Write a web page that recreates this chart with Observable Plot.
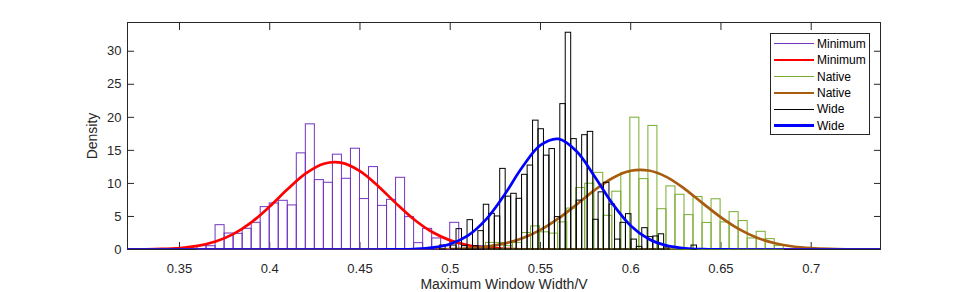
<!DOCTYPE html>
<html>
<head>
<meta charset="utf-8">
<script src="https://cdn.jsdelivr.net/npm/d3@7"></script>
<script src="https://cdn.jsdelivr.net/npm/@observablehq/plot@0.6"></script>
<style>
  body { margin: 0; background: #fff; }
  #wrap { position: relative; width: 974px; height: 292px; font-family: "Liberation Sans", Arial, Helvetica, sans-serif; }
  #legend { position: absolute; left: 770px; top: 33px; width: 100px; height: 102px; box-sizing: border-box; border: 1px solid #262626; background: #fff; }
  .row { position: absolute; left: 0; width: 98px; height: 16px; }
  .sw { position: absolute; left: 3px; width: 40px; }
  .lab { position: absolute; left: 46px; top: 0; line-height: 16px; font-size: 12px; color: #000; white-space: nowrap; }
</style>
</head>
<body>
<div id="wrap"><div id="chart"></div><div id="legend"></div></div>
<script>
// ---- data ----
const xTicks = [0.35, 0.4, 0.45, 0.5, 0.55, 0.6, 0.65, 0.7];
const yTicks = [0, 5, 10, 15, 20, 25, 30];

// Minimum histogram (bin left edges, density)
const minBinWidth = 0.005;
const minEdges = [0.360, 0.365, 0.370, 0.375, 0.380, 0.385, 0.390, 0.395, 0.400, 0.405, 0.410, 0.415, 0.420, 0.425, 0.430, 0.435, 0.440, 0.445, 0.450, 0.455, 0.460, 0.465, 0.470, 0.475, 0.480, 0.485, 0.490, 0.495, 0.500, 0.515];
const minDensity = [0.5, 0.5, 3.68, 2.42, 2.37, 3.13, 4.04, 6.41, 6.97, 7.37, 6.67, 14.55, 18.94, 10.5, 10.1, 14.35, 10.7, 15.25, 7.63, 12.47, 6.6, 7.52, 10.85, 4.9, 0.96, 3.13, 1.67, 0.5, 4.04, 0.5];

// Native histogram
const natBinWidth = 0.005;
const natEdges = [0.5198, 0.5248, 0.5298, 0.5348, 0.5398, 0.5448, 0.5498, 0.5548, 0.5598, 0.5648, 0.5698, 0.5748, 0.5798, 0.5848, 0.5898, 0.5948, 0.5998, 0.6048, 0.6098, 0.6148, 0.6198, 0.6248, 0.6298, 0.6348, 0.6398, 0.6448, 0.6498, 0.6548, 0.6598, 0.6648, 0.6698, 0.6748, 0.6798];
const natDensity = [1.0, 1.0, 0.5, 1.0, 2.5, 3.5, 2.6, 2.4, 4.1, 6.2, 9.3, 9.95, 11.6, 5.1, 8.75, 11.6, 19.95, 10.65, 18.7, 6.1, 9.55, 8.28, 5.2, 7.95, 4.02, 7.6, 4.1, 5.65, 4.3, 1.67, 2.68, 1.57, 0.55];

// Wide histogram
const wideBinWidth = 0.003027;
const wideEdges = [0.4944, 0.4974, 0.5005, 0.5035, 0.5065, 0.5096, 0.5126, 0.5156, 0.5186, 0.5217, 0.5247, 0.5277, 0.5307, 0.5338, 0.5368, 0.5398, 0.5429, 0.5459, 0.5489, 0.5519, 0.5550, 0.5580, 0.5610, 0.5640, 0.5671, 0.5701, 0.5731, 0.5762, 0.5792, 0.5822, 0.5852, 0.5883, 0.5913, 0.5943, 0.5974, 0.6004, 0.6034, 0.6064, 0.6095, 0.6125, 0.6155, 0.6185, 0.6216, 0.6246, 0.6276, 0.6307, 0.6337];
const wideDensity = [0.6, 0, 0.6, 3.08, 0.5, 4.44, 0.5, 2.78, 6.77, 5.4, 5.0, 12.2, 8.0, 8.43, 7.67, 11.3, 12.7, 19.5, 18.2, 14.2, 15.2, 4.9, 22.0, 32.8, 16.7, 7.4, 17.3, 17.8, 4.5, 8.65, 10.1, 6.8, 1.5, 4.04, 5.35, 1.5, 0.4, 3.23, 1.87, 1.97, 2.3, 0.3, 0, 0, 0, 0, 0.6];

// Fitted density curves, read at these x positions
const fitX = [0.32, 0.33, 0.34, 0.35, 0.36, 0.37, 0.38, 0.39, 0.40, 0.41, 0.42, 0.43, 0.44, 0.45, 0.46, 0.47, 0.48, 0.49, 0.50, 0.51, 0.52, 0.53, 0.54, 0.55, 0.56, 0.57, 0.58, 0.59, 0.60, 0.61, 0.62, 0.63, 0.64, 0.65, 0.66, 0.67, 0.68, 0.69, 0.70, 0.71, 0.72, 0.73, 0.74];
const minFit = [0.008, 0.028, 0.084, 0.229, 0.557, 1.213, 2.372, 4.151, 6.511, 9.147, 11.51, 12.98, 13.11, 11.86, 9.613, 6.979, 4.539, 2.645, 1.381, 0.646, 0.271, 0.101, 0.034, 0.010, 0.003, 0.001, 0, 0, 0, 0, 0, 0, 0, 0, 0, 0, 0, 0, 0, 0, 0, 0, 0];
const natFit = [0, 0, 0, 0, 0, 0, 0, 0, 0, 0, 0, 0, 0, 0.0002, 0.0008, 0.0027, 0.009, 0.027, 0.075, 0.187, 0.429, 0.895, 1.703, 2.962, 4.699, 6.802, 8.984, 10.83, 11.91, 11.95, 10.95, 9.150, 6.978, 4.856, 3.084, 1.787, 0.945, 0.456, 0.201, 0.081, 0.030, 0.010, 0.003];
const wideFit = [0, 0, 0, 0, 0, 0, 0, 0, 0, 0, 0, 0, 0, 0.0005, 0.003, 0.017, 0.075, 0.272, 0.833, 2.135, 4.588, 8.261, 12.48, 15.78, 16.73, 14.86, 11.06, 6.903, 3.609, 1.581, 0.581, 0.179, 0.046, 0.010, 0.002, 0.0003, 0, 0, 0, 0, 0, 0, 0];

const seriesNames = ["Minimum", "Minimum", "Native", "Native", "Wide", "Wide"];
const colors = { min: "#7334BF", minFit: "#FF0000", nat: "#77AC30", natFit: "#A85C0F", wide: "#000000", wideFit: "#0000FF" };

// ---- build tables ----
const bins = (edges, dens, w) => edges.map((x1, i) => ({ x1, x2: x1 + w, v: dens[i] }));
const minRows = bins(minEdges, minDensity, minBinWidth);
const natRows = bins(natEdges, natDensity, natBinWidth);
const wideRows = bins(wideEdges, wideDensity, wideBinWidth);
const fitRows = fitX.map((x, i) => ({ x, min: minFit[i], nat: natFit[i], wide: wideFit[i] }));

const xFmt = d => String(+d.toFixed(2));
const axisColor = "#262626";
const fitW = 2.7;

const chart = Plot.plot({
  width: 974,
  height: 292,
  marginLeft: 127,
  marginRight: 94,
  marginTop: 22,
  marginBottom: 43,
  x: { domain: [0.3212, 0.7384] },
  y: { domain: [0, 34.35] },
  style: { fontFamily: '"Liberation Sans", Arial, Helvetica, sans-serif', fontSize: "13px", color: axisColor, background: "#fff" },
  marks: [
    Plot.frame({ stroke: axisColor }),
    Plot.axisX({ ticks: xTicks, tickSize: 0, tickPadding: 14.5, tickFormat: xFmt, label: null, fontSize: 13 }),
    Plot.axisX({ ticks: xTicks, tickSize: 7, dy: -7, tickFormat: () => "", label: null }),
    Plot.axisX({ ticks: xTicks, anchor: "top", tickSize: 7, dy: 7, tickFormat: () => "", label: null }),
    Plot.axisY({ ticks: yTicks, tickSize: 0, tickPadding: 6, label: null, fontSize: 13 }),
    Plot.axisY({ ticks: yTicks, tickSize: 7, dx: 7, tickFormat: () => "", label: null }),
    Plot.axisY({ ticks: yTicks, anchor: "right", tickSize: 7, dx: -7, tickFormat: () => "", label: null }),
    Plot.text(["Maximum Window Width/V"], { text: d => d, frameAnchor: "bottom", lineAnchor: "middle", dy: 35, fontSize: 14, fill: axisColor }),
    Plot.text(["Density"], { text: d => d, frameAnchor: "left", lineAnchor: "middle", textAnchor: "middle", dx: -34.5, rotate: -90, fontSize: 14, fill: axisColor }),

    Plot.rect(minRows, { x1: "x1", x2: "x2", y1: 0, y2: "v", fill: "none", stroke: colors.min, strokeWidth: 1 }),
    Plot.line(fitRows, { x: "x", y: "min", stroke: colors.minFit, strokeWidth: fitW, curve: "catmull-rom", clip: true }),
    Plot.rect(natRows, { x1: "x1", x2: "x2", y1: 0, y2: "v", fill: "none", stroke: colors.nat, strokeWidth: 1 }),
    Plot.line(fitRows, { x: "x", y: "nat", stroke: colors.natFit, strokeWidth: fitW, curve: "catmull-rom", clip: true }),
    Plot.rect(wideRows, { x1: "x1", x2: "x2", y1: 0, y2: "v", fill: "none", stroke: colors.wide, strokeWidth: 1 }),
    Plot.line(fitRows, { x: "x", y: "wide", stroke: colors.wideFit, strokeWidth: fitW, curve: "catmull-rom", clip: true })
  ]
});
document.getElementById("chart").appendChild(chart);

// ---- legend (inside the axes, top right) ----
const legendItems = [
  { name: seriesNames[0], color: colors.min, w: 1 },
  { name: seriesNames[1], color: colors.minFit, w: fitW },
  { name: seriesNames[2], color: colors.nat, w: 1 },
  { name: seriesNames[3], color: colors.natFit, w: fitW },
  { name: seriesNames[4], color: colors.wide, w: 1 },
  { name: seriesNames[5], color: colors.wideFit, w: fitW }
];
const legend = document.getElementById("legend");
legendItems.forEach((it, i) => {
  const row = document.createElement("div");
  row.className = "row";
  row.style.top = (9.7 + 16.4 * i - 8) + "px";
  const sw = document.createElement("div");
  sw.className = "sw";
  sw.style.height = it.w + "px";
  sw.style.top = (8 - it.w / 2) + "px";
  sw.style.background = it.color;
  const lab = document.createElement("div");
  lab.className = "lab";
  lab.textContent = it.name;
  row.appendChild(sw);
  row.appendChild(lab);
  legend.appendChild(row);
});
</script>
</body>
</html>
